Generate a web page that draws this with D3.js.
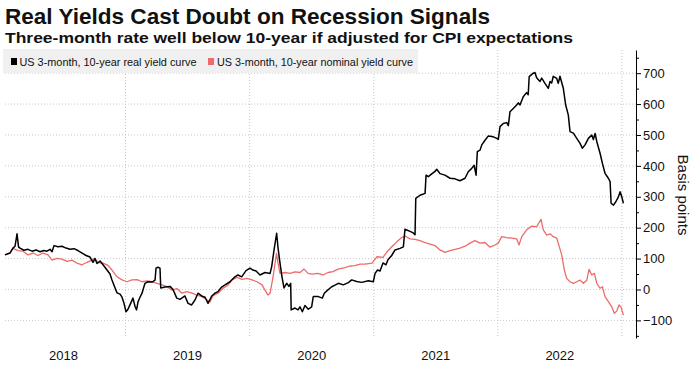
<!DOCTYPE html>
<html>
<head>
<meta charset="utf-8">
<script src="https://cdn.jsdelivr.net/npm/d3@7"></script>
<style>
  body { margin: 0; background: #fff; }
  text { font-family: "Liberation Sans", Arial, sans-serif; fill: #111; }
</style>
</head>
<body>
<svg id="chart" width="700" height="373"></svg>
<script>
// US 3-month / 10-year real yield curve, [decimal year, basis points]
const realCurve = [
  [2018.029, 112], [2018.069, 118], [2018.093, 134], [2018.110, 140], [2018.126, 180], [2018.138, 138],
  [2018.150, 134], [2018.182, 127], [2018.214, 130], [2018.247, 124], [2018.279, 128], [2018.311, 122],
  [2018.343, 126], [2018.367, 124], [2018.392, 130], [2018.408, 122], [2018.424, 142], [2018.456, 138],
  [2018.488, 140], [2018.521, 134], [2018.553, 130], [2018.585, 132], [2018.617, 126], [2018.650, 118],
  [2018.682, 110], [2018.714, 105], [2018.738, 88], [2018.754, 100], [2018.770, 84], [2018.795, 92],
  [2018.819, 80], [2018.851, 63], [2018.875, 50], [2018.891, 31], [2018.916, 5], [2018.932, -11],
  [2018.956, -15], [2018.972, -25], [2018.988, -45], [2019.004, -72], [2019.020, -64], [2019.036, -50],
  [2019.060, -28], [2019.077, -55], [2019.089, -66], [2019.101, -40], [2019.117, -25], [2019.133, -12],
  [2019.157, 20], [2019.181, 25], [2019.214, 24], [2019.238, 30], [2019.246, 69], [2019.262, 72],
  [2019.278, 69], [2019.284, 5], [2019.318, 8], [2019.359, 10], [2019.383, 0], [2019.413, -28],
  [2019.439, -32], [2019.479, -21], [2019.504, -45], [2019.533, -50], [2019.560, -34], [2019.584, -12],
  [2019.614, -21], [2019.641, -25], [2019.665, -45], [2019.695, -21], [2019.721, -12], [2019.745, -7],
  [2019.775, 8], [2019.802, 15], [2019.842, 25], [2019.882, 41], [2019.906, 47], [2019.936, 41],
  [2019.971, 61], [2020.003, 69], [2020.027, 63], [2020.052, 60], [2020.084, 47], [2020.124, 55],
  [2020.165, 52], [2020.178, 74], [2020.197, 128], [2020.218, 182], [2020.229, 135], [2020.245, 85],
  [2020.261, 41], [2020.277, 5], [2020.299, 20], [2020.317, 10], [2020.331, 20], [2020.335, -66],
  [2020.366, -60], [2020.390, -66], [2020.406, -56], [2020.425, -72], [2020.446, -52], [2020.473, -64],
  [2020.500, -56], [2020.513, -23], [2020.554, -23], [2020.586, -28], [2020.602, -12], [2020.629, -2],
  [2020.662, 9], [2020.688, 14], [2020.715, 20], [2020.755, 15], [2020.795, 22], [2020.823, 31],
  [2020.863, 26], [2020.903, 23], [2020.957, 28], [2020.997, 25], [2021.011, 52], [2021.031, 63],
  [2021.051, 60], [2021.075, 86], [2021.099, 80], [2021.115, 96], [2021.145, 110], [2021.172, 128],
  [2021.212, 133], [2021.239, 138], [2021.252, 195], [2021.293, 188], [2021.319, 183], [2021.333, 177],
  [2021.339, 295], [2021.373, 305], [2021.414, 311], [2021.422, 370], [2021.440, 365], [2021.468, 374],
  [2021.494, 382], [2021.508, 389], [2021.534, 375], [2021.574, 370], [2021.615, 360], [2021.655, 358],
  [2021.695, 352], [2021.736, 360], [2021.762, 381], [2021.790, 392], [2021.809, 402], [2021.825, 370],
  [2021.835, 446], [2021.857, 451], [2021.871, 468], [2021.897, 483], [2021.924, 497], [2021.964, 494],
  [2021.992, 489], [2022.004, 486], [2022.018, 527], [2022.044, 537], [2022.072, 540], [2022.085, 530],
  [2022.098, 575], [2022.125, 586], [2022.152, 597], [2022.165, 604], [2022.179, 597], [2022.205, 624],
  [2022.232, 637], [2022.245, 630], [2022.253, 689], [2022.286, 700], [2022.299, 702], [2022.313, 685],
  [2022.340, 673], [2022.354, 684], [2022.380, 667], [2022.407, 651], [2022.421, 673], [2022.434, 668],
  [2022.447, 690], [2022.475, 683], [2022.487, 667], [2022.501, 690], [2022.528, 651], [2022.547, 597],
  [2022.568, 565], [2022.582, 511], [2022.609, 506], [2022.636, 489], [2022.663, 473], [2022.681, 457],
  [2022.703, 468], [2022.730, 489], [2022.757, 500], [2022.770, 485], [2022.784, 505], [2022.798, 478],
  [2022.824, 441], [2022.843, 408], [2022.864, 376], [2022.891, 360], [2022.905, 349], [2022.913, 279],
  [2022.932, 273], [2022.951, 284], [2022.972, 300], [2022.986, 316], [2022.999, 300], [2023.012, 279]
];

// US 3-month / 10-year nominal yield curve, [decimal year, basis points]
const nominalCurve = [
  [2018.029, 112], [2018.069, 118], [2018.093, 133], [2018.134, 126], [2018.174, 124], [2018.214, 112],
  [2018.255, 118], [2018.295, 110], [2018.335, 118], [2018.376, 112], [2018.408, 95], [2018.448, 101],
  [2018.488, 98], [2018.529, 91], [2018.569, 95], [2018.609, 85], [2018.650, 80], [2018.690, 88],
  [2018.730, 95], [2018.754, 101], [2018.778, 87], [2018.819, 85], [2018.859, 78], [2018.891, 63],
  [2018.932, 41], [2018.972, 31], [2019.012, 25], [2019.052, 31], [2019.093, 32], [2019.133, 25],
  [2019.173, 28], [2019.214, 25], [2019.254, 20], [2019.294, 15], [2019.334, 9], [2019.375, -2],
  [2019.415, 3], [2019.455, -12], [2019.495, -7], [2019.536, -12], [2019.576, -18], [2019.616, -23],
  [2019.657, -34], [2019.681, -40], [2019.705, -20], [2019.745, -12], [2019.786, 4], [2019.826, 14],
  [2019.858, 31], [2019.898, 39], [2019.939, 33], [2019.979, 36], [2020.019, 31], [2020.060, 25],
  [2020.100, 15], [2020.124, -2], [2020.148, -18], [2020.165, -12], [2020.189, 41], [2020.217, 117],
  [2020.229, 85], [2020.245, 52], [2020.286, 55], [2020.326, 52], [2020.366, 57], [2020.406, 55],
  [2020.439, 66], [2020.471, 52], [2020.503, 50], [2020.551, 52], [2020.592, 47], [2020.632, 55],
  [2020.672, 58], [2020.713, 66], [2020.769, 71], [2020.809, 76], [2020.849, 77], [2020.890, 82],
  [2020.930, 82], [2020.987, 85], [2021.027, 106], [2021.075, 104], [2021.107, 122], [2021.148, 139],
  [2021.188, 155], [2021.228, 169], [2021.252, 173], [2021.293, 164], [2021.333, 162], [2021.373, 158],
  [2021.414, 152], [2021.454, 147], [2021.494, 142], [2021.534, 128], [2021.574, 120], [2021.615, 126],
  [2021.655, 130], [2021.695, 134], [2021.736, 140], [2021.776, 150], [2021.816, 158], [2021.857, 150],
  [2021.897, 152], [2021.937, 137], [2021.977, 144], [2022.004, 150], [2022.031, 171], [2022.072, 168],
  [2022.112, 166], [2022.152, 164], [2022.171, 144], [2022.193, 171], [2022.233, 193], [2022.273, 205],
  [2022.313, 203], [2022.326, 212], [2022.348, 227], [2022.367, 193], [2022.394, 176], [2022.421, 180],
  [2022.447, 171], [2022.475, 166], [2022.487, 150], [2022.515, 112], [2022.536, 63], [2022.555, 36],
  [2022.582, 25], [2022.609, 20], [2022.636, 25], [2022.663, 30], [2022.690, 20], [2022.717, 30],
  [2022.735, 65], [2022.757, 47], [2022.778, 52], [2022.798, 20], [2022.824, 4], [2022.843, 9],
  [2022.864, -23], [2022.891, -39], [2022.918, -56], [2022.939, -77], [2022.958, -70], [2022.977, -50],
  [2022.994, -58], [2023.012, -83]
];

const yTicks = [-100, 0, 100, 200, 300, 400, 500, 600, 700];
const yearLabels = [2018, 2019, 2020, 2021, 2022];
const yearBreaks = [2019, 2020, 2021, 2022, 2023];

const svg = d3.select("#chart");

const x = d3.scaleLinear().domain([2018, 2023]).range([1.4, 621.9]);
const y = d3.scaleLinear().domain([-157, 775]).range([338, 50]);
const axisX = 636;

// titles
svg.append("text")
    .attr("x", 5).attr("y", 24)
    .attr("font-size", 22).attr("font-weight", "bold")
    .attr("textLength", 485).attr("lengthAdjust", "spacingAndGlyphs")
    .text("Real Yields Cast Doubt on Recession Signals");

svg.append("text")
    .attr("x", 5).attr("y", 43)
    .attr("font-size", 15).attr("font-weight", "bold")
    .attr("textLength", 568).attr("lengthAdjust", "spacingAndGlyphs")
    .text("Three-month rate well below 10-year if adjusted for CPI expectations");

// grid
const grid = svg.append("g")
    .attr("stroke", "#c8c8c8")
    .attr("stroke-dasharray", "1,2");

grid.selectAll("line.h")
    .data(yTicks)
    .enter().append("line")
    .attr("x1", 5).attr("x2", axisX)
    .attr("y1", d => y(d)).attr("y2", d => y(d));

grid.selectAll("line.v")
    .data(yearBreaks)
    .enter().append("line")
    .attr("x1", d => x(d)).attr("x2", d => x(d))
    .attr("y1", 50).attr("y2", 338);

// legend
const legend = svg.append("g");
legend.append("rect")
    .attr("x", 3).attr("y", 49).attr("width", 415).attr("height", 24)
    .attr("fill", "#f0f0f0");

legend.append("rect")
    .attr("x", 11).attr("y", 58).attr("width", 6).attr("height", 7)
    .attr("fill", "#000");
legend.append("text")
    .attr("x", 19.5).attr("y", 65.5).attr("font-size", 11.5)
    .attr("textLength", 177).attr("lengthAdjust", "spacingAndGlyphs")
    .text("US 3-month, 10-year real yield curve");

legend.append("rect")
    .attr("x", 208).attr("y", 58).attr("width", 6).attr("height", 7)
    .attr("fill", "#ee6b6b");
legend.append("text")
    .attr("x", 217).attr("y", 65.5).attr("font-size", 11.5)
    .attr("textLength", 196).attr("lengthAdjust", "spacingAndGlyphs")
    .text("US 3-month, 10-year nominal yield curve");

// lines
const line = d3.line()
    .x(d => x(d[0]))
    .y(d => y(d[1]));

svg.append("path")
    .datum(nominalCurve)
    .attr("fill", "none")
    .attr("stroke", "#ee6b6b")
    .attr("stroke-width", 1.3)
    .attr("stroke-linejoin", "round")
    .attr("d", line);

svg.append("path")
    .datum(realCurve)
    .attr("fill", "none")
    .attr("stroke", "#000")
    .attr("stroke-width", 1.5)
    .attr("stroke-linejoin", "round")
    .attr("d", line);

// y axis on the right
const minorAxis = svg.append("g")
    .attr("transform", `translate(${axisX},0)`)
    .call(d3.axisRight(y)
        .tickValues(d3.range(-150, 751, 100))
        .tickSize(3)
        .tickSizeOuter(0)
        .tickFormat(""));
minorAxis.select(".domain").remove();

const yAxis = svg.append("g")
    .attr("transform", `translate(${axisX},0)`)
    .call(d3.axisRight(y)
        .tickValues(yTicks)
        .tickSize(5)
        .tickSizeOuter(0)
        .tickPadding(2));

yAxis.select(".domain").attr("stroke", "#000");
yAxis.selectAll("text")
    .attr("font-size", 13)
    .attr("font-family", "\"Liberation Sans\", Arial, sans-serif")
    .attr("fill", "#222");

svg.append("text")
    .attr("transform", "translate(678,195) rotate(90)")
    .attr("text-anchor", "middle")
    .attr("font-size", 15)
    .attr("fill", "#222")
    .text("Basis points");

// x labels centred on each year
svg.selectAll("text.year")
    .data(yearLabels)
    .enter().append("text")
    .attr("class", "year")
    .attr("x", d => x(d + 0.5))
    .attr("y", 360)
    .attr("text-anchor", "middle")
    .attr("font-size", 13)
    .attr("fill", "#222")
    .text(d => d);
</script>
</body>
</html>
